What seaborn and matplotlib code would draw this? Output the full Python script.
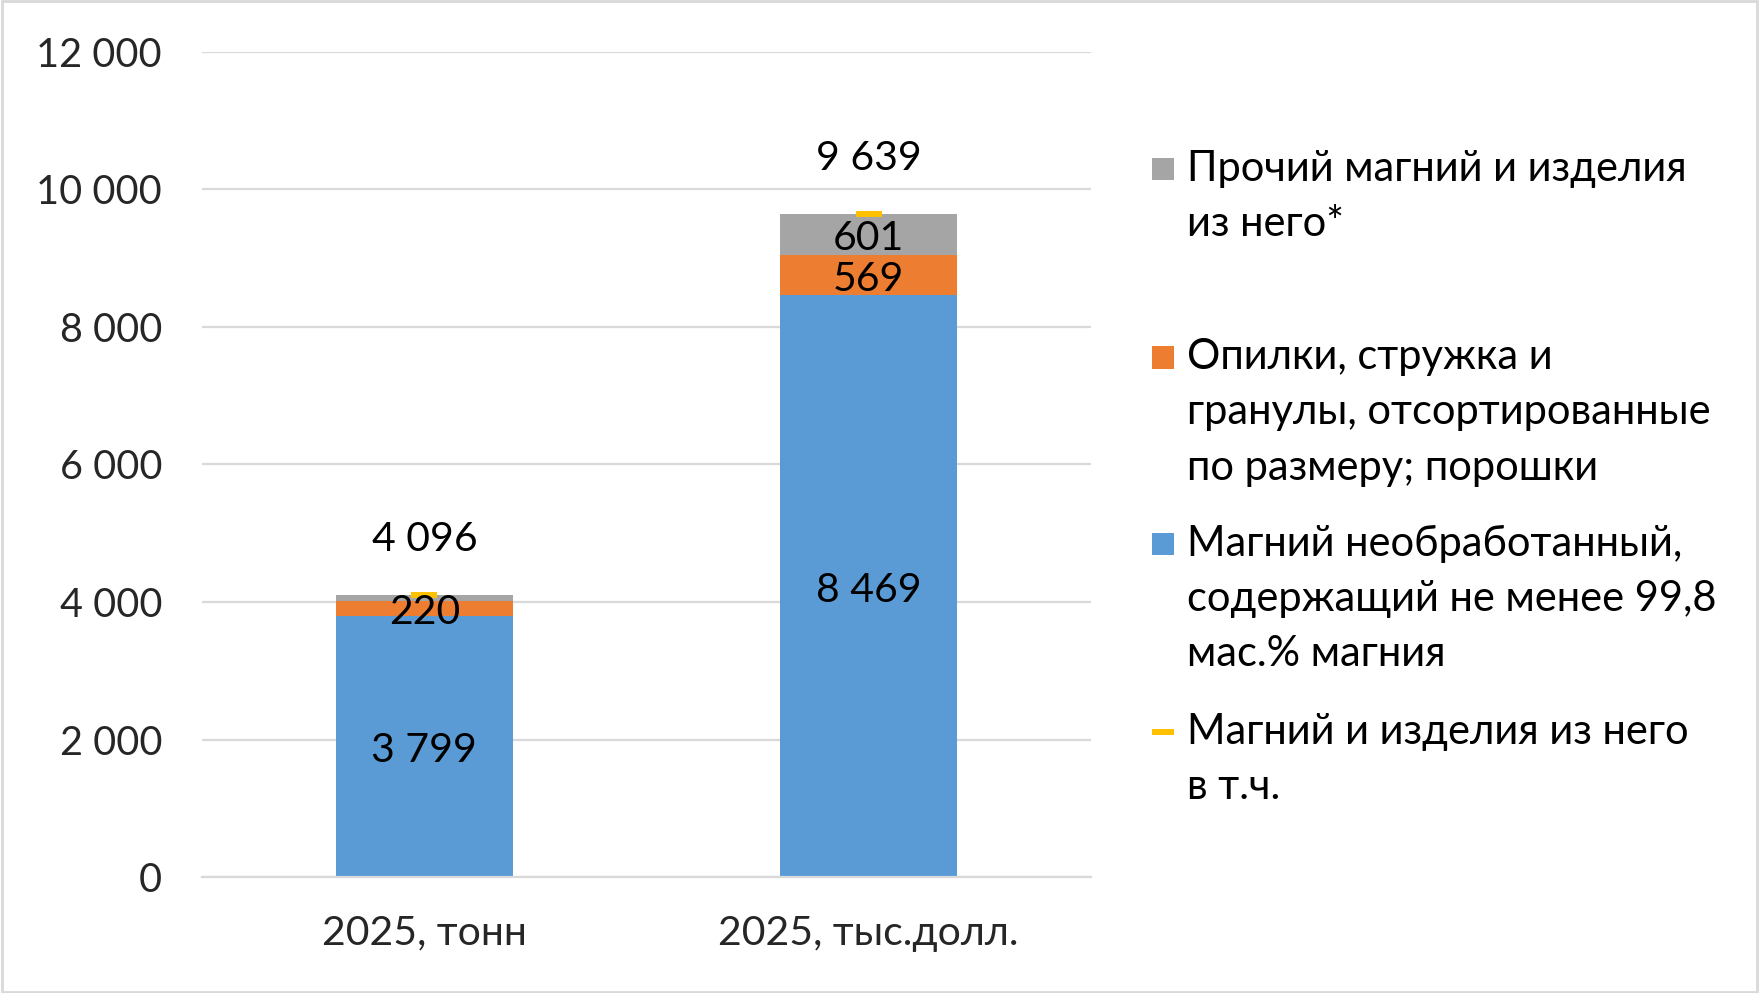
import matplotlib
matplotlib.use("Agg")
import matplotlib.pyplot as plt
import seaborn as sns
import numpy as np
from matplotlib.patches import Rectangle
from matplotlib.lines import Line2D

categories = ["2025, тонн", "2025, тыс.долл."]
raw_magnesium = [3799, 8469]
chips_powders = [220, 569]
other_magnesium = [77, 601]
totals = [4096, 9639]

series_names = [
    "Прочий магний и изделия\nиз него*",
    "Опилки, стружка и\nгранулы, отсортированные\nпо размеру; порошки",
    "Магний необработанный,\nсодержащий не менее 99,8\nмас.% магния",
    "Магний и изделия из него\nв т.ч.",
]
yticks = [0, 2000, 4000, 6000, 8000, 10000, 12000]

C_BLUE = "#5B9BD5"
C_ORANGE = "#ED7D31"
C_GRAY = "#A5A5A5"
C_YELLOW = "#FFC000"
GRID = "#D9D9D9"

sns.set_theme(style="white")
FONT = ["Lato", "DejaVu Sans"]
plt.rcParams["font.family"] = FONT

def fmt(v):
    return f"{int(round(v)):,}".replace(",", " ")

fig = plt.figure(figsize=(17.59, 9.93), dpi=100)
ax = fig.add_axes([0.115, 0.1165, 0.505, 0.8315])

blue = np.array(raw_magnesium, dtype=float)
orange = np.array(chips_powders, dtype=float)
gray = np.array(other_magnesium, dtype=float)

sns.barplot(x=categories, y=blue + orange + gray, color=C_GRAY, width=0.4,
            saturation=1, ax=ax, zorder=2)
sns.barplot(x=categories, y=blue + orange, color=C_ORANGE, width=0.4,
            saturation=1, ax=ax, zorder=2)
sns.barplot(x=categories, y=blue, color=C_BLUE, width=0.4,
            saturation=1, ax=ax, zorder=2)
for p in ax.patches:
    p.set_edgecolor("none")

sns.scatterplot(x=categories, y=totals, marker="_", s=330, linewidth=4.3,
                color=C_YELLOW, ax=ax, zorder=4, legend=False)

LS = 29.5
TS = 28.5
XS = 29.5
GS = 30

def seg_label(x, y, v):
    ax.annotate(fmt(v), (x, y), xytext=(0, -3), textcoords="offset points",
                ha="center", va="center", fontsize=LS, color="black", zorder=5)

for i in range(len(categories)):
    seg_label(i, blue[i] / 2, blue[i])
    seg_label(i, blue[i] + orange[i] / 2, orange[i])
    if gray[i] > 200:
        seg_label(i, blue[i] + orange[i] + gray[i] / 2, gray[i])
    ax.annotate(fmt(totals[i]), (i, totals[i]), xytext=(0, 40), textcoords="offset points",
                ha="center", va="center", fontsize=LS, color="black", zorder=5)

ax.set_xlim(-0.5, 1.5)
ax.set_ylim(0, 12000)
ax.set_yticks(yticks)
ax.set_yticklabels([fmt(t) for t in yticks])
ax.yaxis.grid(True, color=GRID, linewidth=1.6, zorder=0)
ax.set_axisbelow(True)
for s in ["left", "right", "top"]:
    ax.spines[s].set_visible(False)
ax.spines["bottom"].set_color(GRID)
ax.spines["bottom"].set_linewidth(1.6)
ax.tick_params(axis="y", length=0, pad=29, labelsize=TS)
ax.tick_params(axis="x", length=0, pad=27, labelsize=XS)
ax.set_xlabel("")
ax.set_ylabel("")

# manual legend (Excel style)
handle_colors = [C_GRAY, C_ORANGE, C_BLUE, None]
first_line_y = [0.830, 0.640, 0.4525, 0.2624]
line_step = 0.0554
hx = 0.655
hw = 0.0125
hh = 0.0222
tx = 0.675
for name, col, y0 in zip(series_names, handle_colors, first_line_y):
    if col is not None:
        fig.add_artist(Rectangle((hx, y0 - hh / 2), hw, hh, transform=fig.transFigure,
                                 facecolor=col, edgecolor="none"))
    else:
        fig.add_artist(Line2D([hx, hx + hw], [y0, y0], transform=fig.transFigure,
                              color=C_YELLOW, linewidth=4.3, solid_capstyle="butt"))
    for k, line in enumerate(name.split("\n")):
        fig.text(tx, y0 - k * line_step, line, ha="left", va="center", fontsize=GS, color="black")

# figure border
fig.add_artist(Rectangle((0.001, 0.001), 0.998, 0.998, transform=fig.transFigure,
                         facecolor="none", edgecolor=GRID, linewidth=2))

fig.savefig("out.png", dpi=100)
